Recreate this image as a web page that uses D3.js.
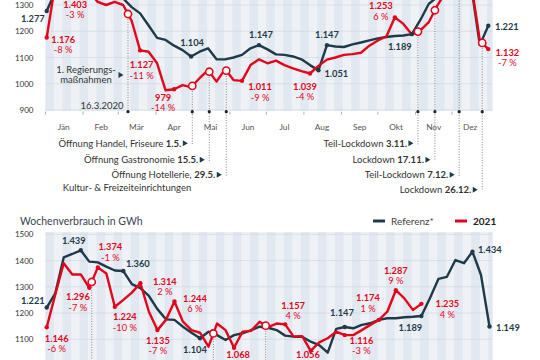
<!DOCTYPE html>
<html><head><meta charset="utf-8">
<script src="https://cdn.jsdelivr.net/npm/d3@7"></script>
<style>body{margin:0;background:#fff}svg{display:block;font-family:Lato,"Open Sans",sans-serif}</style>
</head><body><svg id="c" width="540" height="360"></svg>
<script>
// ---------- data ----------
const months = ["Jän","Feb","Mär","Apr","Mai","Jun","Jul","Aug","Sep","Okt","Nov","Dez"];
const ticksTop = [900,1000,1100,1200,1300];
const ticksBottom = [1100,1200,1300,1400,1500];

const ref2020 = [1277,1350,1410,1425,1440,1400,1395,1375,1355,1325,1292,1268,1222,1175,1167,1145,1128,1104,1122,1135,1093,1093,1100,1110,1135,1147,1131,1112,1110,1104,1093,1071,1051,1147,1142,1140,1150,1157,1165,1173,1178,1182,1184,1189,1243,1305,1330,1380,1395,1430,1370,1148,1221];
const val2020 = [1176,1380,1395,1403,1385,1350,1312,1300,1312,1300,1240,1127,1122,1078,975,979,995,987,1021,1052,1008,1056,1014,1011,1071,1093,1078,1088,1071,1059,1048,1039,1068,1092,1100,1110,1113,1118,1145,1165,1180,1253,1228,1188,1203,1235,1298,1350,1390,1400,1380,1165,1132];

const ref2021 = [1221,1275,1412,1425,1439,1396,1393,1377,1362,1360,1310,1295,1265,1215,1176,1174,1148,1125,1104,1129,1116,1097,1116,1123,1135,1148,1144,1135,1114,1110,1110,1091,1078,1049,1140,1147,1142,1155,1161,1174,1180,1180,1184,1186,1189,1256,1330,1338,1402,1390,1434,1345,1149];
const val2021 = [1146,1270,1390,1347,1347,1296,1374,1351,1224,1250,1278,1314,1205,1135,1174,1244,1167,1135,1125,1072,1160,1135,1068,1129,1132,1167,1146,1160,1157,1110,1112,1056,1088,1104,1129,1116,1116,1135,1155,1174,1205,1287,1256,1212,1235];

const events2020 = [
  {date:"2020-03-09", day:"16.3.2020", text:["1. Regierungs-","maßnahmen"], row:-1},
  {date:"2020-05-01", day:"1.5.", text:"Öffnung Handel, Friseure ", row:0},
  {date:"2020-05-15", day:"15.5.", text:"Öffnung Gastronomie ", row:1},
  {date:"2020-05-29", day:"29.5.", text:"Öffnung Hotellerie, ", row:2},
  {date:"2020-11-03", day:"3.11.", text:"Teil-Lockdown ", row:0},
  {date:"2020-11-17", day:"17.11.", text:"Lockdown ", row:1},
  {date:"2020-12-07", day:"7.12.", text:"Teil-Lockdown ", row:2},
  {date:"2020-12-26", day:"26.12.", text:"Lockdown ", row:3}
];
const note2020 = "Kultur- & Freizeiteinrichtungen";
const events2021 = ["2021-02-08","2021-05-19","2021-07-01"];

const annTop = [
  {s:"ref",i:0},{s:"val",i:0,pct:"-8 %"},{s:"val",i:3,pct:"-3 %"},{s:"val",i:11,pct:"-11 %"},
  {s:"val",i:15,pct:"-14 %"},{s:"ref",i:17},{s:"ref",i:25},{s:"val",i:23,pct:"-9 %"},
  {s:"val",i:31,pct:"-4 %"},{s:"ref",i:33},{s:"ref",i:32},{s:"val",i:41,pct:"6 %"},
  {s:"ref",i:43},{s:"ref",i:52},{s:"val",i:52,pct:"-7 %"}
];
const annBottom = [
  {s:"ref",i:0},{s:"val",i:0,pct:"-6 %"},{s:"ref",i:4},{s:"val",i:6,pct:"-1 %"},
  {s:"val",i:5,pct:"-7 %"},{s:"ref",i:9},{s:"val",i:8,pct:"-10 %"},{s:"val",i:11,pct:"2 %"},
  {s:"val",i:13,pct:"-7 %"},{s:"val",i:15,pct:"6 %"},{s:"ref",i:18},{s:"val",i:22},
  {s:"val",i:28,pct:"4 %"},{s:"val",i:31},{s:"ref",i:35},{s:"val",i:35,pct:"-3 %"},
  {s:"val",i:39,pct:"1 %"},{s:"val",i:41,pct:"9 %"},{s:"ref",i:44},{s:"val",i:44,pct:"4 %"},
  {s:"ref",i:50},{s:"ref",i:52}
];
const legendLabels = ["Referenz*","2021"];
const titleBottom = "Wochenverbrauch in GWh";

// ---------- layout (offsets of labels from their points) ----------
const layTop = [[-2,10.5,"end"],[16.5,5],[3,30],[1.5,18],[-11,11.4],[1,-10],[2,-6.7],[18,9.6],
  [-5,16],[0,-6.7],[6,7,"start"],[-14,-8.3],[-12,15.4],[6.7,3.8,"start"],[19,6.4]];
const layBottom = [[-2,-4,"end"],[10,14.3],[-7,-6.8],[12.5,-17],[-11.4,12.5],[14.5,-4.5],[10,13.7],[24.5,1.4],
  [0.5,13.4],[20.5,0],[-5,15.2],[4,10.6],[8,-15.8],[-2.7,7.5],[-2.8,-10.5],[16.7,8.4],
  [-10.8,-18.4],[0,-16.7],[-11,14.6],[26,3.6],[5.5,1,"start"],[6.5,5,"start"]];

const C_REF = "#1f3a48", C_VAL = "#e3051b";
const svg = d3.select("#c");
const fmt = d3.formatLocale({decimal:",",thousands:".",grouping:[3],currency:["",""]}).format(",d");
const weekDate = (year,k) => new Date(year,0,2+7*k);
const X0 = 45.5, X1 = 489.5, BGR = 492.5;

function panel(o){
  const x = d3.scaleTime().domain([new Date(o.year,0,1), new Date(o.year+1,0,1)]).range([X0,X1]);
  const y = d3.scaleLinear().domain([o.ticks[0], o.ticks[o.ticks.length-1]]).range(o.yRange);
  const g = svg.append("g");
  g.append("rect").attr("x",X0).attr("y",o.bg[0]).attr("width",BGR-X0).attr("height",o.bg[1]-o.bg[0]).attr("fill","#eef2f7");
  d3.range(0,53).forEach(k=>{
    if(k%2) return;
    const a = x(new Date(o.year,0,1+7*k)), b = Math.min(BGR, x(new Date(o.year,0,8+7*k)));
    g.append("rect").attr("x",a).attr("y",o.bg[0]).attr("width",b-a).attr("height",o.bg[1]-o.bg[0]).attr("fill","#e1e8f0");
  });
  g.selectAll(".grid").data(o.ticks).join("line").attr("x1",X0).attr("x2",BGR)
    .attr("y1",d=>y(d)).attr("y2",d=>y(d)).attr("stroke","#d0d9e3").attr("stroke-width",0.7);
  const ya = g.append("g").attr("transform",`translate(${X0},0)`)
    .call(d3.axisLeft(y).tickValues(o.ticks).tickSize(0).tickPadding(12).tickFormat(d3.format("d")));
  ya.select(".domain").remove();
  ya.selectAll("text").attr("font-size",8).attr("fill","#333").attr("font-family","Lato,'Open Sans',sans-serif");
  return {x,y,g};
}

function interp(data, year, dateStr){
  const d = new Date(dateStr+"T00:00:00");
  const f = (d - weekDate(year,0)) / (7*864e5);
  const i = Math.max(0, Math.min(data.length-2, Math.floor(f)));
  const t = f - i;
  return data[i]*(1-t) + data[i+1]*t;
}

function drawLines(p, year, ref, val){
  const line = d3.line().x((d,i)=>p.x(weekDate(year,i))).y(d=>p.y(d));
  p.g.append("path").datum(ref).attr("d",line).attr("fill","none").attr("stroke",C_REF)
    .attr("stroke-width",2.4).attr("stroke-linejoin","round");
  p.g.append("path").datum(val).attr("d",line).attr("fill","none").attr("stroke",C_VAL)
    .attr("stroke-width",2.4).attr("stroke-linejoin","round");
}

function drawAnn(p, year, ref, val, ann, lay){
  ann.forEach((a,j)=>{
    const [dx,dy,anchor] = lay[j];
    const data = a.s==="ref" ? ref : val;
    const col = a.s==="ref" ? C_REF : C_VAL;
    const px = p.x(weekDate(year,a.i)), py = p.y(data[a.i]);
    p.g.append("circle").attr("cx",px).attr("cy",py).attr("r",2.2).attr("fill",col);
    const t = p.g.append("text").attr("x",px+dx).attr("y",py+dy).attr("text-anchor",anchor||"middle")
      .attr("fill",col).attr("font-size",9.3);
    t.append("tspan").attr("font-weight",700).text(fmt(data[a.i]));
    if(a.pct) t.append("tspan").attr("x",px+dx).attr("dy",10.5).text(a.pct);
  });
}

function triangle(g, xe, cy){
  g.append("path").attr("d",`M${xe-9.5},${cy-3} L${xe-4.5},${cy} L${xe-9.5},${cy+3} Z`).attr("fill",C_REF);
}

// ---------- top panel (2020) ----------
const pTop = panel({year:2020, ticks:ticksTop, yRange:[110,5], bg:[-5,111]});
const AXY = 111.7;
const rowY = [146.5,163,178,193];
pTop.g.selectAll(".mt").data(d3.range(0,12)).join("line")
  .attr("x1",m=>pTop.x(new Date(2020,m,1))).attr("x2",m=>pTop.x(new Date(2020,m,1)))
  .attr("y1",AXY).attr("y2",AXY+3).attr("stroke","#999").attr("stroke-width",0.8);
pTop.g.selectAll(".ml").data(months).join("text")
  .attr("x",(d,m)=>pTop.x(new Date(2020,m,16))).attr("y",129.5).attr("text-anchor","middle")
  .attr("font-size",8.3).attr("fill","#555").text(d=>d);
events2020.forEach(e=>{
  const xe = pTop.x(new Date(e.date+"T00:00:00"));
  const yc = pTop.y(interp(val2020,2020,e.date));
  const yEnd = e.row<0 ? AXY : rowY[e.row]-2;
  pTop.g.append("line").attr("x1",xe).attr("x2",xe).attr("y1",yc).attr("y2",yEnd)
    .attr("stroke","#666").attr("stroke-width",0.8).attr("stroke-dasharray","1,1.6");
});
drawLines(pTop, 2020, ref2020, val2020);
events2020.forEach(e=>{
  const xe = pTop.x(new Date(e.date+"T00:00:00"));
  const yc = pTop.y(interp(val2020,2020,e.date));
  pTop.g.append("circle").attr("cx",xe).attr("cy",yc).attr("r",3.6).attr("fill","#fff")
    .attr("stroke",C_VAL).attr("stroke-width",1.6);
  pTop.g.append("circle").attr("cx",xe).attr("cy",AXY).attr("r",1.6).attr("fill","#222");
  if(e.row<0){
    const t = pTop.g.append("text").attr("text-anchor","middle").attr("font-size",9.5).attr("fill","#333");
    e.text.forEach((s,k)=>t.append("tspan").attr("x",xe-42).attr("y",73.3+10*k).text(s));
    triangle(pTop.g, xe, 75);
    pTop.g.append("text").attr("x",xe-4.5).attr("y",109.3).attr("text-anchor","end")
      .attr("font-size",9.5).attr("fill","#333").text(e.day);
  } else {
    const by = rowY[e.row];
    const t = pTop.g.append("text").attr("x",xe-11).attr("y",by).attr("text-anchor","end")
      .attr("font-size",9.5).attr("fill","#333");
    t.append("tspan").text(e.text);
    t.append("tspan").attr("font-weight",700).text(e.day);
    triangle(pTop.g, xe, by-3.2);
  }
});
pTop.g.append("text").attr("x",pTop.x(new Date(2020,4,29))-35).attr("y",190.5).attr("text-anchor","end")
  .attr("font-size",9.5).attr("fill","#333").text(note2020);
drawAnn(pTop, 2020, ref2020, val2020, annTop, layTop);

// ---------- bottom panel (2021) ----------
svg.append("text").attr("x",20).attr("y",224.5).attr("font-size",10.5).attr("fill","#3a4650").text(titleBottom);
const lg = svg.append("g");
[[C_REF,373,legendLabels[0],400],[C_VAL,455,legendLabels[1],700]].forEach(([c,lx,lab,w])=>{
  lg.append("line").attr("x1",lx).attr("x2",lx+12).attr("y1",221).attr("y2",221).attr("stroke",c).attr("stroke-width",3);
  lg.append("text").attr("x",lx+18).attr("y",224.5).attr("font-size",10).attr("font-weight",w)
    .attr("fill", w===700 ? "#222" : "#444").text(lab);
});
const pBot = panel({year:2021, ticks:ticksBottom, yRange:[339.3,234.3], bg:[232,370]});
events2021.forEach(d=>{
  const xe = pBot.x(new Date(d+"T00:00:00"));
  const yc = pBot.y(interp(val2021,2021,d));
  pBot.g.append("line").attr("x1",xe).attr("x2",xe).attr("y1",yc).attr("y2",370)
    .attr("stroke","#666").attr("stroke-width",0.8).attr("stroke-dasharray","1,1.6");
});
drawLines(pBot, 2021, ref2021, val2021);
events2021.forEach(d=>{
  const xe = pBot.x(new Date(d+"T00:00:00"));
  const yc = pBot.y(interp(val2021,2021,d));
  pBot.g.append("circle").attr("cx",xe).attr("cy",yc).attr("r",3.6).attr("fill","#fff")
    .attr("stroke",C_VAL).attr("stroke-width",1.6);
});
drawAnn(pBot, 2021, ref2021, val2021, annBottom, layBottom);
</script></body></html>
